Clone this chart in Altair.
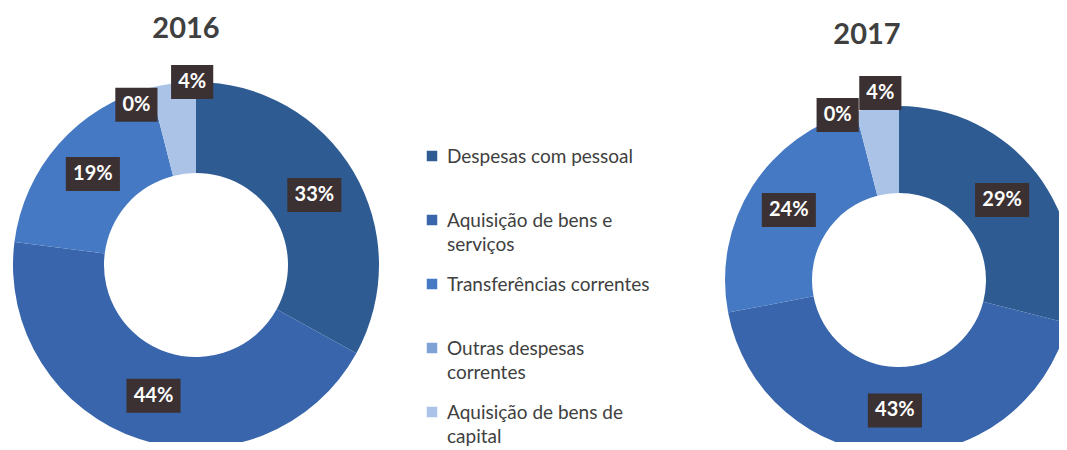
import altair as alt
import pandas as pd

# ---- data ----
categories = [
    "Despesas com pessoal",
    "Aquisição de bens e serviços",
    "Transferências correntes",
    "Outras despesas correntes",
    "Aquisição de bens de capital",
]
legend_text = [
    "Despesas com pessoal",
    "Aquisição de bens e\nserviços",
    "Transferências correntes",
    "Outras despesas\ncorrentes",
    "Aquisição de bens de\ncapital",
]
values_2016 = [33, 44, 19, 0, 4]
values_2017 = [29, 43, 24, 0, 4]
palette = ["#2f5b93", "#3865ab", "#4579c3", "#7fa2d6", "#aac3e6"]

FONT = "Lato"
BOX = "#3b3032"
TEXT = "#404040"
WIDE = "M-1.59,-1H1.59V1H-1.59Z"
NARROW = "M-1.24,-1H1.24V1H-1.24Z"

color_enc = alt.Color(
    "cat:N", scale=alt.Scale(domain=categories, range=palette), legend=None
)


def donut(year, values, outer, inner, xdom, ydom, title_offset, title_dx, small):
    """xdom / ydom: visible window around the donut centre, in pixels.
    small: label nudges (degrees, extra radius) for the two thin slices."""
    df = pd.DataFrame(
        {"cat": categories, "order": list(range(len(categories))), "value": values}
    )
    xs = alt.Scale(domain=xdom)
    ys = alt.Scale(domain=ydom)
    base = alt.Chart(df)
    arcs = base.mark_arc(
        outerRadius=outer, innerRadius=inner, strokeWidth=0, clip=True
    ).encode(
        x=alt.XDatum(0, type="quantitative", scale=xs, axis=None),
        y=alt.YDatum(0, type="quantitative", scale=ys, axis=None),
        theta=alt.Theta("value:Q", stack=True),
        color=color_enc,
        order=alt.Order("order:Q"),
    )
    mid_r = (outer + inner) / 2
    (a3, r3), (a4, r4) = small
    lab = (
        base.transform_window(
            cum="sum(value)", sort=[alt.SortField("order")], frame=[None, 0]
        )
        .transform_joinaggregate(total="sum(value)")
        .transform_calculate(
            nudge=f"datum.value < 5 ? (datum.order == 3 ? {a3} : {a4}) : 0",
            ang="(datum.cum - datum.value/2)/datum.total*2*PI + datum.nudge*PI/180",
            rad=f"datum.value < 5 ? (datum.order == 3 ? {outer + r3} : {outer + r4}) : {mid_r}",
            px="datum.rad*sin(datum.ang)",
            py="datum.rad*cos(datum.ang)",
            label="datum.value + '%'",
        )
    )
    xenc = alt.X("px:Q", scale=xs, axis=None)
    yenc = alt.Y("py:Q", scale=ys, axis=None)
    boxes = lab.mark_point(filled=True, opacity=1, color=BOX, size=1156, strokeWidth=0).encode(
        x=xenc,
        y=yenc,
        shape=alt.when(alt.datum.value >= 10)
        .then(alt.value(WIDE))
        .otherwise(alt.value(NARROW)),
    )
    texts = lab.mark_text(
        font=FONT, fontWeight="bold", fontSize=20, color="white",
        align="center", baseline="middle",
    ).encode(x=xenc, y=yenc, text="label:N")
    return alt.layer(arcs, boxes, texts).properties(
        width=xdom[1] - xdom[0],
        height=ydom[1] - ydom[0],
        title=alt.TitleParams(
            year, font=FONT, fontSize=29, fontWeight="bold", color=TEXT,
            offset=title_offset, dx=title_dx,
        ),
    )


d2016 = donut("2016", values_2016, 183, 92, [-183, 183], [-177, 205], 16, -10,
              [(-6, -12), (6, 0)])
d2017 = donut("2017", values_2017, 174, 87, [-174, 160], [-162, 220], 10, -25,
              [(-6, 2), (1.5, 14)])

leg_df = pd.DataFrame({"cat": categories, "text": legend_text})
ysc = alt.Y(
    "cat:N", scale=alt.Scale(domain=categories, range=[96, 352], padding=0), axis=None
)
squares = alt.Chart(leg_df).mark_square(size=110, opacity=1).encode(
    x=alt.value(53), y=ysc, color=color_enc
)
ltexts = alt.Chart(leg_df).mark_text(
    align="left", baseline="top", dy=-8, lineBreak="\n", font=FONT,
    fontSize=19, color=TEXT, lineHeight=24,
).encode(x=alt.value(68), y=ysc, text="text:N")
legend = alt.layer(squares, ltexts).properties(width=346, height=382)

chart = (
    alt.hconcat(d2016, legend, d2017, spacing=0)
    .properties(padding={"left": 5, "top": 7, "right": 0, "bottom": 0})
    .configure_view(stroke=None)
)

chart.save("out.html", embed_options={"renderer": "svg", "actions": False})
